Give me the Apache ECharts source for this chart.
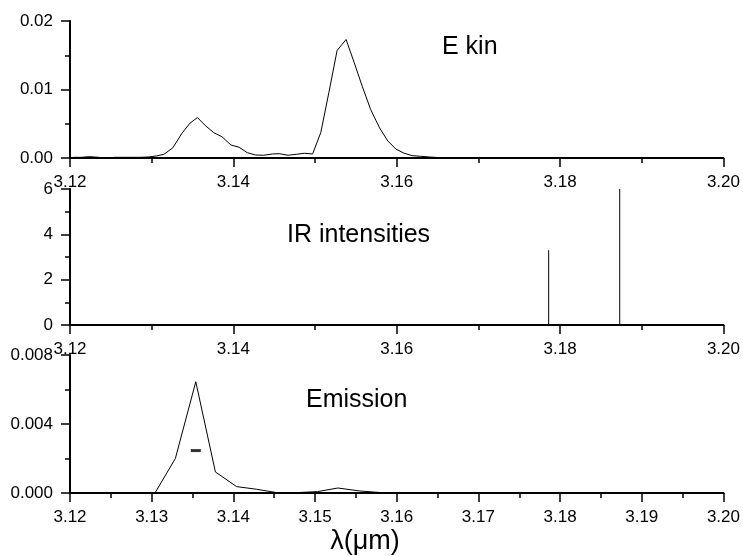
<!DOCTYPE html>
<html>
<head>
<meta charset="utf-8">
<script src="https://cdn.jsdelivr.net/npm/echarts@6/dist/echarts.min.js"></script>
<style>html,body{margin:0;padding:0;background:#fff;}#c{width:743px;height:556px;}</style>
</head>
<body>
<div id="c"></div>
<script>
// E kin (top panel)
var ekinLambda = [3.1204,3.1214,3.1224,3.1235,3.1245,3.1255,3.1265,3.1275,3.1286,3.1296,
  3.1306,3.1315,3.1326,3.1337,3.1347,3.1356,3.1366,3.1376,3.1386,3.1397,3.1407,3.1417,
  3.1427,3.1437,3.1448,3.1456,3.1467,3.1477,3.1487,3.1497,3.1507,3.1517,3.1527,3.1538,
  3.1548,3.1558,3.1568,3.1579,3.1589,3.1599,3.1609,3.1619,3.1629,3.1640,3.1650];
var ekinValues = [0.0001,0.0001,0.0002,0.0001,0.0000,0.0001,0.0001,0.0001,0.0001,0.00015,
  0.0003,0.00054,0.0015,0.0036,0.0051,0.0059,0.0047,0.0037,0.0031,0.0019,0.00157,0.00078,
  0.00044,0.0004,0.00059,0.00063,0.0004,0.00054,0.00069,0.00059,0.0037,0.0096,0.0157,0.0173,
  0.0139,0.0104,0.0071,0.0044,0.0025,0.0013,0.0007,0.00034,0.00025,0.00015,0.00007];
// IR intensities (middle panel)
var irLambda = [3.1786, 3.1873];
var irValues = [3.3, 6.0];
// Emission (bottom panel)
var emLambda = [3.1304,3.1329,3.1354,3.1378,3.1404,3.1428,3.1452,3.1477,3.1503,3.1528,3.1554,3.1579];
var emValues = [0.0,0.0020,0.00645,0.00122,0.00037,0.00022,0.00003,0.00002,0.00008,0.00029,0.00012,0.00003];
var emMarker = [[3.1354, 0.00246]];
// ticks
var xMin = 3.12, xMax = 3.20;
var ekinTicks = {min:0, max:0.02, interval:0.01, digits:2};
var irTicks = {min:0, max:6, interval:2, digits:0};
var emTicks = {min:0, max:0.008, interval:0.004, digits:3};
var panelLabels = ['E kin', 'IR intensities', 'Emission'];
var xName = 'λ(μm)';

var font = 'Liberation Sans, Arial, sans-serif';
var axisLineStyle = {show:true, lineStyle:{color:'#000', width:2}};
function xAxis(gi, interval) {
  return {
    type:'value', gridIndex:gi, min:xMin, max:xMax, interval:interval,
    axisLine:axisLineStyle,
    axisTick:{show:true, inside:false, length:9, lineStyle:{color:'#000', width:1.5}},
    minorTick:{show:true, splitNumber:2, length:5, lineStyle:{color:'#000', width:1.5}},
    splitLine:{show:false}, minorSplitLine:{show:false},
    axisLabel:{show:true, margin:16, color:'#000', fontSize:17, fontFamily:font,
      showMinLabel:true, showMaxLabel:true, hideOverlap:false,
      formatter:function(v){return v.toFixed(2);}}
  };
}
function yAxis(gi, t) {
  return {
    type:'value', gridIndex:gi, min:t.min, max:t.max, interval:t.interval,
    axisLine:axisLineStyle,
    axisTick:{show:true, inside:false, length:9, lineStyle:{color:'#000', width:1.5}},
    minorTick:{show:true, splitNumber:2, length:5, lineStyle:{color:'#000', width:1.5}},
    splitLine:{show:false}, minorSplitLine:{show:false},
    axisLabel:{show:true, margin:17, color:'#000', fontSize:17, fontFamily:font,
      showMinLabel:true, showMaxLabel:true, hideOverlap:false,
      formatter:function(v){return v.toFixed(t.digits);}}
  };
}
function pairs(xs, ys){ return xs.map(function(x,i){return [x, ys[i]];}); }

var chart = echarts.init(document.getElementById('c'), null, {renderer:'canvas'});
chart.setOption({
  backgroundColor:'#fff',
  animation:false,
  grid:[
    {left:70, right:18, top:21, height:137},
    {left:70, right:18, top:189, height:136},
    {left:70, right:18, top:355, height:138}
  ],
  xAxis:[xAxis(0,0.02), xAxis(1,0.02), xAxis(2,0.01)],
  yAxis:[yAxis(0,ekinTicks), yAxis(1,irTicks), yAxis(2,emTicks)],
  graphic:[
    {type:'text', x:442, y:47, style:{text:panelLabels[0], font:'25px '+font, fill:'#000', verticalAlign:'middle', align:'left'}},
    {type:'text', x:287, y:235, style:{text:panelLabels[1], font:'25px '+font, fill:'#000', verticalAlign:'middle', align:'left'}},
    {type:'text', x:306, y:400, style:{text:panelLabels[2], font:'25px '+font, fill:'#000', verticalAlign:'middle', align:'left'}},
    {type:'text', x:365, y:542, style:{text:xName, font:'27px '+font, fill:'#000', verticalAlign:'middle', align:'center'}}
  ],
  series:[
    {type:'line', xAxisIndex:0, yAxisIndex:0, data:pairs(ekinLambda, ekinValues),
      showSymbol:false, lineStyle:{color:'#000', width:1}},
    {type:'bar', xAxisIndex:1, yAxisIndex:1, data:pairs(irLambda, irValues),
      barWidth:1, itemStyle:{color:'#000'}},
    {type:'line', xAxisIndex:2, yAxisIndex:2, data:pairs(emLambda, emValues),
      showSymbol:false, lineStyle:{color:'#000', width:1}},
    {type:'scatter', xAxisIndex:2, yAxisIndex:2, data:emMarker,
      symbol:'rect', symbolSize:[10,3], itemStyle:{color:'#000'}}
  ]
});
</script>
</body>
</html>
